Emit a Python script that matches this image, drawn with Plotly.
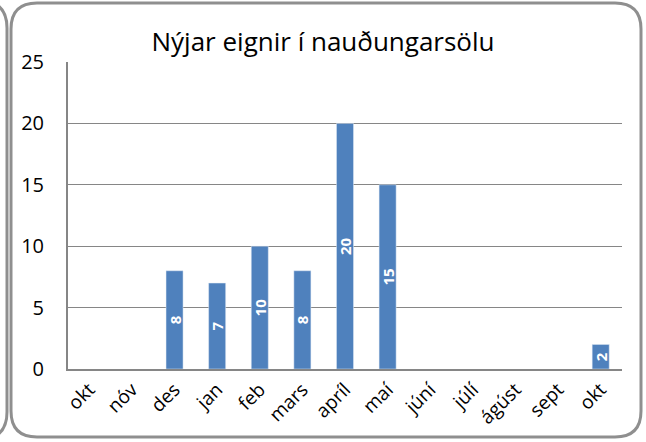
import plotly.graph_objects as go

months = ["okt", "nóv", "des", "jan", "feb", "mars", "apríl", "maí",
          "júní", "júlí", "ágúst", "sept", "okt"]
values = [None, None, 8, 7, 10, 8, 20, 15, None, None, None, None, 2]
title = "Nýjar eignir í nauðungarsölu"

W, H = 646, 442
L, R, T, B = 68, 24, 62, 73
pw, ph = W - L - R, H - T - B
FONT = "Open Sans"


def px(x):
    return (x - L) / pw


def py(y):
    return (H - B - y) / ph


def rounded_rect(x0, y0, x1, y1, r):
    pts = [
        f"M {px(x0 + r)},{py(y0)}",
        f"L {px(x1 - r)},{py(y0)}",
        f"Q {px(x1)},{py(y0)} {px(x1)},{py(y0 + r)}",
        f"L {px(x1)},{py(y1 - r)}",
        f"Q {px(x1)},{py(y1)} {px(x1 - r)},{py(y1)}",
        f"L {px(x0 + r)},{py(y1)}",
        f"Q {px(x0)},{py(y1)} {px(x0)},{py(y1 - r)}",
        f"L {px(x0)},{py(y0 + r)}",
        f"Q {px(x0)},{py(y0)} {px(x0 + r)},{py(y0)} Z",
    ]
    return " ".join(pts)


left_edge = (f"M {px(-20)},{py(1)} Q {px(7)},{py(1)} {px(7)},{py(28)} "
             f"L {px(7)},{py(412)} Q {px(7)},{py(439)} {px(-20)},{py(439)}")

idx = list(range(len(months)))

fig = go.Figure()
fig.add_bar(
    x=idx, y=values, marker_color="#4F81BD", width=0.4,
    text=[str(v) if v is not None else "" for v in values],
    textposition="inside", insidetextanchor="middle", textangle=-90,
    textfont=dict(color="white", size=15, family=FONT, weight="bold"),
)
fig.update_layout(
    width=W, height=H,
    margin=dict(l=L, r=R, t=T, b=B),
    paper_bgcolor="white", plot_bgcolor="white",
    showlegend=False,
    font=dict(family=FONT, color="black"),
    title=dict(text=title, x=0.5, xanchor="center", y=1 - 42 / H,
               yanchor="middle", font=dict(size=26)),
    uniformtext=dict(minsize=13, mode="show"),
    shapes=[
        dict(type="path", xref="paper", yref="paper",
             path=rounded_rect(11, 3, 641, 437, 26),
             line=dict(color="#8f8f8f", width=3)),
        dict(type="path", xref="paper", yref="paper", path=left_edge,
             line=dict(color="#8f8f8f", width=3)),
    ],
    xaxis=dict(
        tickmode="array", tickvals=idx, ticktext=months, tickangle=-45,
        range=[-0.5, 12.5], showline=True, linecolor="#868686", linewidth=2,
        ticks="", tickfont=dict(size=19), showgrid=False,
    ),
    yaxis=dict(
        range=[0, 25], dtick=5, showgrid=True, gridcolor="#868686",
        gridwidth=1, showline=True, linecolor="#868686", linewidth=2,
        zeroline=False, ticks="", ticklabelstandoff=18,
        tickfont=dict(size=20),
    ),
)

# page body has a default 8px margin; drop it so the figure fills the window
fig.write_html("out.html", config={"displayModeBar": False},
               post_script="document.body.style.margin='0';")
